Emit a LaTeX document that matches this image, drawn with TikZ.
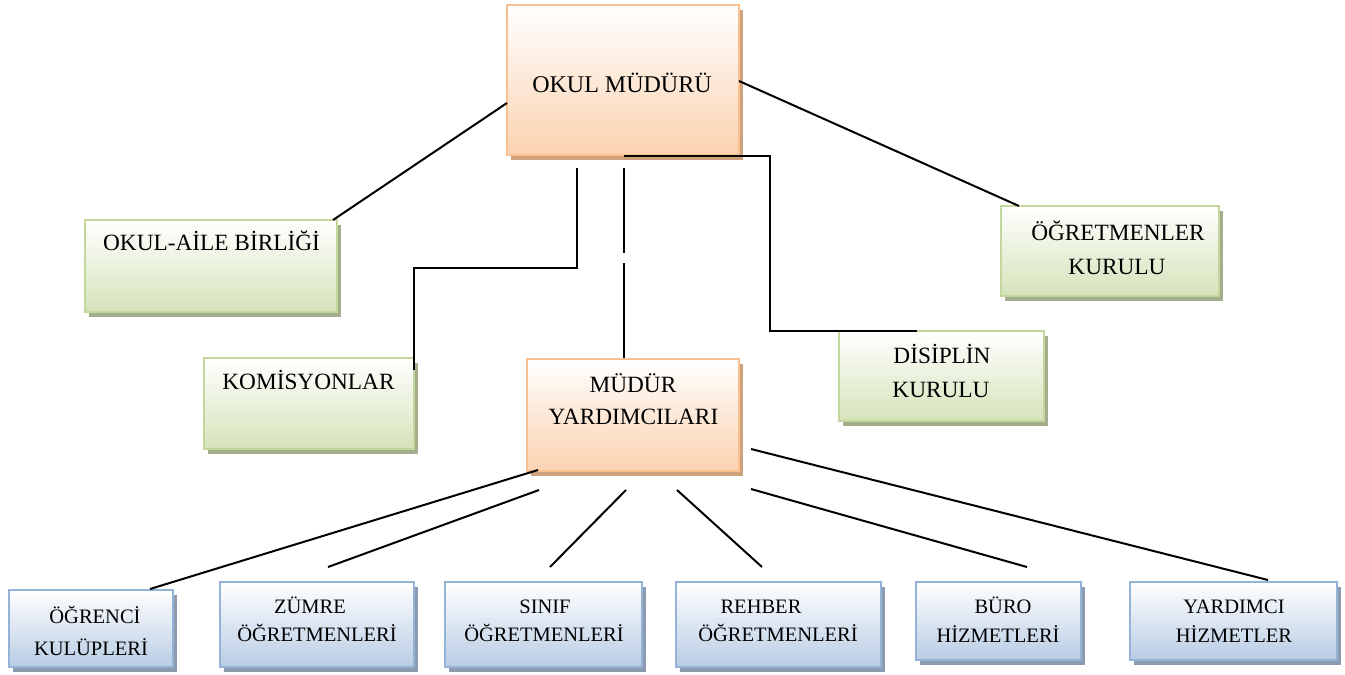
\documentclass[tikz,border=0pt]{standalone}
\usepackage{fontspec}
\setmainfont{Liberation Serif}
\usetikzlibrary{shadows}
\definecolor{obord}{HTML}{FAC090}
\definecolor{obot}{HTML}{FAD2B0}
\definecolor{oshad}{HTML}{CFA27E}
\definecolor{gbord}{HTML}{C3D69B}
\definecolor{gbot}{HTML}{D5E3BA}
\definecolor{gshad}{HTML}{A3AE8C}
\definecolor{bbord}{HTML}{95B3D7}
\definecolor{bbot}{HTML}{B8CCE4}
\definecolor{bshad}{HTML}{8C9BB0}
\tikzset{
  boxbase/.style={rectangle, inner sep=0pt, line width=2.5pt},
  obox/.style={boxbase, draw=obord, top color=white, bottom color=obot,
    general shadow={fill=oshad, shadow xshift=4pt, shadow yshift=-5pt}},
  gbox/.style={boxbase, draw=gbord, top color=white, bottom color=gbot,
    general shadow={fill=gshad, shadow xshift=4pt, shadow yshift=-5pt}},
  bbox/.style={boxbase, draw=bbord, top color=white, bottom color=bbot,
    general shadow={fill=bshad, shadow xshift=4pt, shadow yshift=-5pt}},
  txtbig/.style={inner sep=0pt, anchor=base, font=\fontsize{24}{28}\selectfont},
  txtmid/.style={inner sep=0pt, anchor=base, font=\fontsize{23.3}{28}\selectfont},
  txtsmall/.style={inner sep=0pt, anchor=base, font=\fontsize{20.5}{24}\selectfont},
  conn/.style={line width=2pt, black}
}
\begin{document}
\begin{tikzpicture}[x=1pt, y=-1pt]
\useasboundingbox (0,0) rectangle (1345,675);
\fill[white] (0,0) rectangle (1345,675);

% boxes
\node[obox, minimum width=232pt, minimum height=150pt] (mudur) at (623,80) {};
\node[gbox, minimum width=252pt, minimum height=92pt] (aile) at (211,266) {};
\node[gbox, minimum width=210pt, minimum height=91pt] (komis) at (309,403.5) {};
\node[gbox, minimum width=205pt, minimum height=90pt] (disiplin) at (941.5,376) {};
\node[gbox, minimum width=218pt, minimum height=90pt] (ogrkurul) at (1110,251) {};
\node[obox, minimum width=212pt, minimum height=112pt] (yard) at (633,415) {};
\node[bbox, minimum width=164pt, minimum height=77pt] (kulup) at (91,628.5) {};
\node[bbox, minimum width=194pt, minimum height=85pt] (zumre) at (317,624.5) {};
\node[bbox, minimum width=197pt, minimum height=85pt] (sinif) at (543.5,624.5) {};
\node[bbox, minimum width=205pt, minimum height=85pt] (rehber) at (778.5,624.5) {};
\node[bbox, minimum width=165pt, minimum height=78pt] (buro) at (998.5,621) {};
\node[bbox, minimum width=207pt, minimum height=78pt] (yardimci) at (1233.5,621) {};

% texts
\node[txtbig] (tmudur) at (622,92) {OKUL MÜDÜRÜ};
\node[txtmid] (taile) at (211.5,250) {OKUL-AİLE BİRLİĞİ};
\node[txtmid] (tkomis) at (308.5,389) {KOMİSYONLAR};
\node[txtmid] (tdis1) at (942,363) {DİSİPLİN};
\node[txtmid] (tdis2) at (941,397) {KURULU};
\node[txtmid] (tok1) at (1118,240) {ÖĞRETMENLER};
\node[txtmid] (tok2) at (1117,274) {KURULU};
\node[txtmid] (tyard1) at (633,392) {MÜDÜR};
\node[txtmid] (tyard2) at (633.5,424) {YARDIMCILARI};
\node[txtsmall] (tkul1) at (95,623) {ÖĞRENCİ};
\node[txtsmall] (tkul2) at (91,655) {KULÜPLERİ};
\node[txtsmall] (tzum1) at (310,613) {ZÜMRE};
\node[txtsmall] (tzum2) at (317,641) {ÖĞRETMENLERİ};
\node[txtsmall] (tsin1) at (545,613) {SINIF};
\node[txtsmall] (tsin2) at (544,641) {ÖĞRETMENLERİ};
\node[txtsmall] (treh1) at (761,613) {REHBER};
\node[txtsmall] (treh2) at (778,641) {ÖĞRETMENLERİ};
\node[txtsmall] (tbur1) at (1003,613) {BÜRO};
\node[txtsmall] (tbur2) at (998,642) {HİZMETLERİ};
\node[txtsmall] (tyrd1) at (1234,613) {YARDIMCI};
\node[txtsmall] (tyrd2) at (1234,642) {HİZMETLER};

% connector end points
\coordinate (m1) at (507,103);
\coordinate (a1) at (333,220);
\coordinate (m2) at (739,81);
\coordinate (k1) at (1019,206);
\coordinate (m3) at (577,168);
\coordinate (b3) at (577,268);
\coordinate (c3) at (414,268);
\coordinate (ko1) at (414,370);
\coordinate (m4) at (624,168);
\coordinate (b4) at (624,253);
\coordinate (c4) at (624,263);
\coordinate (y4) at (624,358);
\coordinate (m5) at (624,156);
\coordinate (b5) at (770,156);
\coordinate (c5) at (770,331);
\coordinate (d5) at (917,331);
\coordinate (y6) at (538,470);
\coordinate (e6) at (150,589);
\coordinate (y7) at (539,490);
\coordinate (e7) at (328,567);
\coordinate (y8) at (626,490);
\coordinate (e8) at (550,567);
\coordinate (y9) at (677,490);
\coordinate (e9) at (762,567);
\coordinate (y10) at (751,489);
\coordinate (e10) at (1027,567);
\coordinate (y11) at (751,449);
\coordinate (e11) at (1268,580);

% connectors
\draw[conn] (m1) -- (a1);
\draw[conn] (m2) -- (k1);
\draw[conn] (m3) -- (b3) -- (c3) -- (ko1);
\draw[conn] (m4) -- (b4);
\draw[conn] (c4) -- (y4);
\draw[conn] (m5) -- (b5) -- (c5) -- (d5);
\draw[conn] (y6) -- (e6);
\draw[conn] (y7) -- (e7);
\draw[conn] (y8) -- (e8);
\draw[conn] (y9) -- (e9);
\draw[conn] (y10) -- (e10);
\draw[conn] (y11) -- (e11);
\end{tikzpicture}
\end{document}
